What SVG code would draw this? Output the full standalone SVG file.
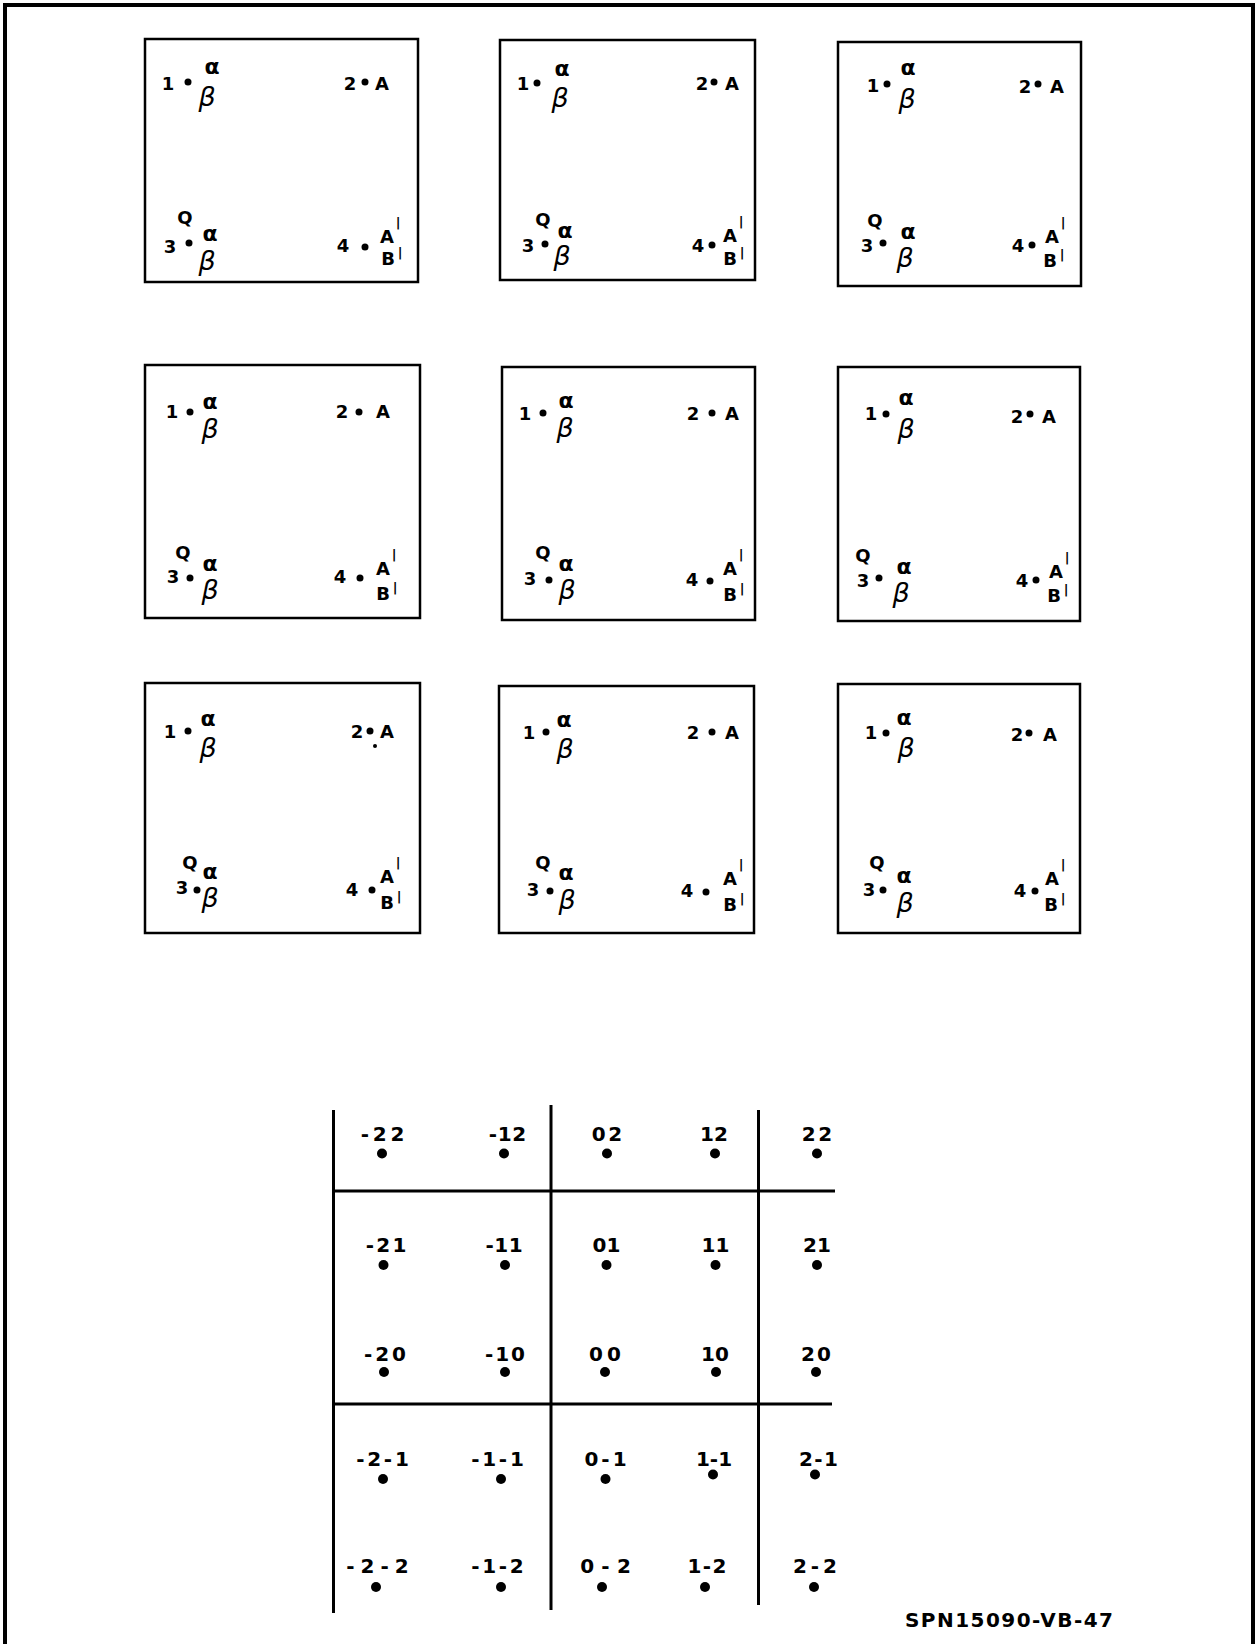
<svg xmlns="http://www.w3.org/2000/svg" width="1257" height="1644" viewBox="0 0 1257 1644">
<style>
text{font-family:"DejaVu Sans","Liberation Sans",sans-serif;fill:#000}
.t{font-weight:bold;font-size:18px;text-anchor:middle}
.a{font-weight:bold;font-size:22px;text-anchor:middle}
.b{font-style:oblique;font-size:27px;text-anchor:middle}
.pr{font-weight:bold;font-size:13px;text-anchor:middle}
.g{font-weight:bold;font-size:20px;text-anchor:middle}
.box{fill:none;stroke:#000;stroke-width:2.5}
.ln{fill:none;stroke:#000;stroke-width:3}
.d{fill:#000}
</style>
<rect width="1257" height="1644" fill="#fff"/>
<path d="M5,1644 V5 H1253 V1644" fill="none" stroke="#000" stroke-width="4"/>

<g id="box-1-1">
<rect class="box" x="145" y="39" width="273" height="243"/>
<text class="t" x="168" y="90">1</text><circle class="d" cx="188" cy="82" r="3.5"/><text class="a" x="212" y="74">α</text><text class="b" x="207" y="106">β</text>
<text class="t" x="350" y="90">2</text><circle class="d" cx="365" cy="82" r="3.5"/><text class="t" x="382" y="90">A</text>
<text class="t" x="185" y="224">Q</text><text class="a" x="210" y="241">α</text><text class="t" x="170" y="253">3</text><circle class="d" cx="189" cy="243" r="3.5"/><text class="b" x="207" y="270">β</text>
<text class="t" x="343" y="252">4</text><circle class="d" cx="365" cy="247" r="3.5"/><text class="t" x="387" y="243">A</text><text class="pr" x="398" y="227">|</text><text class="t" x="388" y="265">B</text><text class="pr" x="400" y="257">|</text>
</g>

<g id="box-1-2">
<rect class="box" x="500" y="40" width="255" height="240"/>
<text class="t" x="523" y="90">1</text><circle class="d" cx="537" cy="83" r="3.5"/><text class="a" x="562" y="76">α</text><text class="b" x="560" y="107">β</text>
<text class="t" x="702" y="90">2</text><circle class="d" cx="714" cy="82" r="3.5"/><text class="t" x="732" y="90">A</text>
<text class="t" x="543" y="226">Q</text><text class="a" x="565" y="238">α</text><text class="t" x="528" y="252">3</text><circle class="d" cx="545" cy="244" r="3.5"/><text class="b" x="562" y="265">β</text>
<text class="t" x="698" y="252">4</text><circle class="d" cx="712" cy="245" r="3.5"/><text class="t" x="730" y="242">A</text><text class="pr" x="741" y="226">|</text><text class="t" x="730" y="265">B</text><text class="pr" x="742" y="257">|</text>
</g>

<g id="box-1-3">
<rect class="box" x="838" y="42" width="243" height="244"/>
<text class="t" x="873" y="92">1</text><circle class="d" cx="887" cy="84" r="3.5"/><text class="a" x="908" y="75">α</text><text class="b" x="907" y="108">β</text>
<text class="t" x="1025" y="93">2</text><circle class="d" cx="1038" cy="84" r="3.5"/><text class="t" x="1057" y="93">A</text>
<text class="t" x="875" y="227">Q</text><text class="a" x="908" y="239">α</text><text class="t" x="867" y="252">3</text><circle class="d" cx="883" cy="243" r="3.5"/><text class="b" x="905" y="267">β</text>
<text class="t" x="1018" y="252">4</text><circle class="d" cx="1032" cy="245" r="3.5"/><text class="t" x="1052" y="243">A</text><text class="pr" x="1063" y="227">|</text><text class="t" x="1050" y="267">B</text><text class="pr" x="1062" y="259">|</text>
</g>

<g id="box-2-1">
<rect class="box" x="145" y="365" width="275" height="253"/>
<text class="t" x="172" y="418">1</text><circle class="d" cx="190" cy="412" r="3.5"/><text class="a" x="210" y="409">α</text><text class="b" x="210" y="438">β</text>
<text class="t" x="342" y="418">2</text><circle class="d" cx="359" cy="412" r="3.5"/><text class="t" x="383" y="418">A</text>
<text class="t" x="183" y="559">Q</text><text class="a" x="210" y="571">α</text><text class="t" x="173" y="583">3</text><circle class="d" cx="190" cy="578" r="3.5"/><text class="b" x="210" y="599">β</text>
<text class="t" x="340" y="583">4</text><circle class="d" cx="360" cy="578" r="3.5"/><text class="t" x="383" y="575">A</text><text class="pr" x="394" y="559">|</text><text class="t" x="383" y="600">B</text><text class="pr" x="395" y="592">|</text>
</g>

<g id="box-2-2">
<rect class="box" x="502" y="367" width="253" height="253"/>
<text class="t" x="525" y="420">1</text><circle class="d" cx="543" cy="413" r="3.5"/><text class="a" x="566" y="408">α</text><text class="b" x="565" y="437">β</text>
<text class="t" x="693" y="420">2</text><circle class="d" cx="712" cy="413" r="3.5"/><text class="t" x="732" y="420">A</text>
<text class="t" x="543" y="559">Q</text><text class="a" x="566" y="571">α</text><text class="t" x="530" y="585">3</text><circle class="d" cx="549" cy="580" r="3.5"/><text class="b" x="567" y="599">β</text>
<text class="t" x="692" y="586">4</text><circle class="d" cx="710" cy="581" r="3.5"/><text class="t" x="730" y="575">A</text><text class="pr" x="741" y="559">|</text><text class="t" x="730" y="601">B</text><text class="pr" x="742" y="593">|</text>
</g>

<g id="box-2-3">
<rect class="box" x="838" y="367" width="242" height="254"/>
<text class="t" x="871" y="420">1</text><circle class="d" cx="886" cy="414" r="3.5"/><text class="a" x="906" y="405">α</text><text class="b" x="906" y="438">β</text>
<text class="t" x="1017" y="423">2</text><circle class="d" cx="1030" cy="414" r="3.5"/><text class="t" x="1049" y="423">A</text>
<text class="t" x="863" y="562">Q</text><text class="a" x="904" y="574">α</text><text class="t" x="863" y="587">3</text><circle class="d" cx="879" cy="578" r="3.5"/><text class="b" x="901" y="602">β</text>
<text class="t" x="1022" y="587">4</text><circle class="d" cx="1036" cy="580" r="3.5"/><text class="t" x="1056" y="578">A</text><text class="pr" x="1067" y="562">|</text><text class="t" x="1054" y="602">B</text><text class="pr" x="1066" y="594">|</text>
</g>

<g id="box-3-1">
<rect class="box" x="145" y="683" width="275" height="250"/>
<text class="t" x="170" y="738">1</text><circle class="d" cx="188" cy="731" r="3.5"/><text class="a" x="208" y="726">α</text><text class="b" x="208" y="757">β</text>
<text class="t" x="357" y="738">2</text><circle class="d" cx="370" cy="731" r="3.5"/><circle class="d" cx="375" cy="746" r="2"/><text class="t" x="387" y="738">A</text>
<text class="t" x="190" y="869">Q</text><text class="a" x="210" y="879">α</text><text class="t" x="182" y="894">3</text><circle class="d" cx="197" cy="890" r="3.5"/><text class="b" x="210" y="907">β</text>
<text class="t" x="352" y="896">4</text><circle class="d" cx="372" cy="890" r="3.5"/><text class="t" x="387" y="883">A</text><text class="pr" x="398" y="867">|</text><text class="t" x="387" y="909">B</text><text class="pr" x="399" y="901">|</text>
</g>

<g id="box-3-2">
<rect class="box" x="499" y="686" width="255" height="247"/>
<text class="t" x="529" y="739">1</text><circle class="d" cx="546" cy="732" r="3.5"/><text class="a" x="564" y="727">α</text><text class="b" x="565" y="758">β</text>
<text class="t" x="693" y="739">2</text><circle class="d" cx="712" cy="732" r="3.5"/><text class="t" x="732" y="739">A</text>
<text class="t" x="543" y="869">Q</text><text class="a" x="566" y="880">α</text><text class="t" x="533" y="896">3</text><circle class="d" cx="550" cy="891" r="3.5"/><text class="b" x="567" y="909">β</text>
<text class="t" x="687" y="897">4</text><circle class="d" cx="706" cy="892" r="3.5"/><text class="t" x="730" y="885">A</text><text class="pr" x="741" y="869">|</text><text class="t" x="730" y="911">B</text><text class="pr" x="742" y="903">|</text>
</g>

<g id="box-3-3">
<rect class="box" x="838" y="684" width="242" height="249"/>
<text class="t" x="871" y="739">1</text><circle class="d" cx="886" cy="733" r="3.5"/><text class="a" x="904" y="725">α</text><text class="b" x="906" y="757">β</text>
<text class="t" x="1017" y="741">2</text><circle class="d" cx="1029" cy="733" r="3.5"/><text class="t" x="1050" y="741">A</text>
<text class="t" x="877" y="869">Q</text><text class="a" x="904" y="883">α</text><text class="t" x="869" y="896">3</text><circle class="d" cx="883" cy="890" r="3.5"/><text class="b" x="905" y="912">β</text>
<text class="t" x="1020" y="897">4</text><circle class="d" cx="1035" cy="891" r="3.5"/><text class="t" x="1052" y="885">A</text><text class="pr" x="1063" y="869">|</text><text class="t" x="1051" y="911">B</text><text class="pr" x="1063" y="903">|</text>
</g>

<g id="grid-lines">
<line class="ln" x1="333.5" y1="1110" x2="333.5" y2="1613"/>
<line class="ln" x1="551" y1="1105" x2="551" y2="1610"/>
<line class="ln" x1="758.5" y1="1110" x2="758.5" y2="1605"/>
<line class="ln" x1="333.5" y1="1191" x2="835" y2="1191"/>
<line class="ln" x1="333.5" y1="1404" x2="832" y2="1404"/>
</g>

<g id="grid-points">
<text class="g" x="382.5" y="1141" textLength="43.6" lengthAdjust="spacing">-22</text><circle class="d" cx="382" cy="1153.5" r="5"/>
<text class="g" x="507.5" y="1141" textLength="37.5" lengthAdjust="spacing">-12</text><circle class="d" cx="504" cy="1153.5" r="5"/>
<text class="g" x="607" y="1141" textLength="30.4" lengthAdjust="spacing">02</text><circle class="d" cx="607" cy="1153.5" r="5"/>
<text class="g" x="714" y="1141">12</text><circle class="d" cx="715" cy="1153.5" r="5"/>
<text class="g" x="817" y="1141" textLength="30.4" lengthAdjust="spacing">22</text><circle class="d" cx="817" cy="1153.5" r="5"/>

<text class="g" x="386" y="1252" textLength="40.6" lengthAdjust="spacing">-21</text><circle class="d" cx="383.5" cy="1265" r="5"/>
<text class="g" x="504" y="1252" textLength="37.2" lengthAdjust="spacing">-11</text><circle class="d" cx="505" cy="1265" r="5"/>
<text class="g" x="606.5" y="1252">01</text><circle class="d" cx="606.5" cy="1265" r="5"/>
<text class="g" x="715.5" y="1252">11</text><circle class="d" cx="715.5" cy="1265" r="5"/>
<text class="g" x="817" y="1252">21</text><circle class="d" cx="817" cy="1265" r="5"/>

<text class="g" x="385" y="1361" textLength="42" lengthAdjust="spacing">-20</text><circle class="d" cx="384" cy="1372" r="5"/>
<text class="g" x="505" y="1361" textLength="40" lengthAdjust="spacing">-10</text><circle class="d" cx="505" cy="1372" r="5"/>
<text class="g" x="605" y="1361" textLength="32" lengthAdjust="spacing">00</text><circle class="d" cx="605" cy="1372" r="5"/>
<text class="g" x="715" y="1361">10</text><circle class="d" cx="716" cy="1372" r="5"/>
<text class="g" x="816" y="1361" textLength="30" lengthAdjust="spacing">20</text><circle class="d" cx="816" cy="1372" r="5"/>

<text class="g" x="382.5" y="1466" textLength="52.7" lengthAdjust="spacing">-2-1</text><circle class="d" cx="383" cy="1479" r="5"/>
<text class="g" x="497.5" y="1466" textLength="52.7" lengthAdjust="spacing">-1-1</text><circle class="d" cx="501" cy="1479" r="5"/>
<text class="g" x="605.5" y="1466" textLength="42.2" lengthAdjust="spacing">0-1</text><circle class="d" cx="605.5" cy="1479" r="5"/>
<text class="g" x="714" y="1466">1-1</text><circle class="d" cx="713" cy="1474.5" r="5"/>
<text class="g" x="818.5" y="1466" textLength="38.9" lengthAdjust="spacing">2-1</text><circle class="d" cx="815" cy="1474.5" r="5"/>

<text class="g" x="377.5" y="1573" textLength="62.5" lengthAdjust="spacing">-2-2</text><circle class="d" cx="376" cy="1587" r="5"/>
<text class="g" x="497.5" y="1573" textLength="52.4" lengthAdjust="spacing">-1-2</text><circle class="d" cx="501" cy="1587" r="5"/>
<text class="g" x="605.5" y="1573" textLength="50.7" lengthAdjust="spacing">0-2</text><circle class="d" cx="602" cy="1587" r="5"/>
<text class="g" x="707" y="1573" textLength="38.9" lengthAdjust="spacing">1-2</text><circle class="d" cx="705" cy="1587" r="5"/>
<text class="g" x="815" y="1573" textLength="43.9" lengthAdjust="spacing">2-2</text><circle class="d" cx="814" cy="1587" r="5"/>
</g>

<text id="figure-id" x="905" y="1627" style="font-weight:bold;font-size:20px" textLength="208" lengthAdjust="spacing">SPN15090-VB-47</text>
</svg>
